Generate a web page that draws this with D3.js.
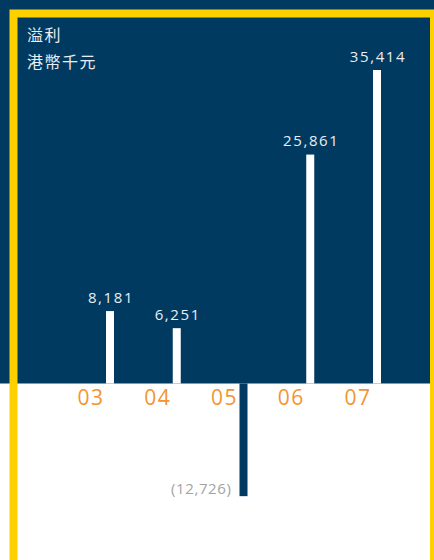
<!DOCTYPE html>
<html>
<head>
<meta charset="utf-8">
<script src="https://cdn.jsdelivr.net/npm/d3@7"></script>
<style>
  body { margin: 0; padding: 0; background: #fff; }
  svg { display: block; }
</style>
</head>
<body>
<div id="chart"></div>
<script>
// data
var years = ["03", "04", "05", "06", "07"];
var profit = [8181, 6251, -12726, 25861, 35414];
var valueLabels = ["8,181", "6,251", "(12,726)", "25,861", "35,414"];
var titleLines = ["溢利", "港幣千元"];

var width = 434, height = 560;
var baseline = 383.5;

var svg = d3.select("#chart")
  .append("svg")
    .attr("width", width)
    .attr("height", height);

// navy panel above the zero line
svg.append("rect")
    .attr("x", 0).attr("y", 0)
    .attr("width", width).attr("height", baseline)
    .attr("fill", "#013a61");

var x = d3.scalePoint()
    .domain(years)
    .range([110, 377]);

var y = d3.scaleLinear()
    .domain([0, d3.max(profit)])
    .range([baseline, 70]);

var rows = years.map(function(d, i){ return {year: d, value: profit[i], label: valueLabels[i]}; });

// bars
svg.selectAll(".bar")
  .data(rows)
  .enter().append("rect")
    .attr("class", "bar")
    .attr("x", function(d){ return x(d.year) - 4; })
    .attr("y", function(d){ return Math.min(y(d.value), y(0)); })
    .attr("width", 8)
    .attr("height", function(d){ return Math.abs(y(d.value) - y(0)); })
    .attr("fill", function(d){ return d.value < 0 ? "#013a61" : "#ffffff"; });

// value labels
svg.selectAll(".val")
  .data(rows)
  .enter().append("text")
    .attr("class", "val")
    .attr("x", function(d){ return d.value < 0 ? x(d.year) - 12 : x(d.year) + 1; })
    .attr("y", function(d){ return d.value < 0 ? y(d.value) - 2 : y(d.value) - 8.5; })
    .attr("text-anchor", function(d){ return d.value < 0 ? "end" : "middle"; })
    .attr("font-family", "'Open Sans', sans-serif")
    .attr("font-size", "15px")
    .attr("letter-spacing", function(d){ return d.value < 0 ? "0.6px" : "1.6px"; })
    .attr("fill", function(d){ return d.value < 0 ? "#a3a3a3" : "#e8eef3"; })
    .text(function(d){ return d.label; });

// year labels
svg.selectAll(".yr")
  .data(years)
  .enter().append("text")
    .attr("class", "yr")
    .attr("x", function(d){ return x(d) - 19; })
    .attr("y", 405)
    .attr("text-anchor", "middle")
    .attr("font-family", "'Open Sans', sans-serif")
    .attr("font-size", "21px")
    .attr("letter-spacing", "1.5px")
    .attr("fill", "#f39433")
    .text(function(d){ return d; });

// title
svg.selectAll(".title")
  .data(titleLines)
  .enter().append("text")
    .attr("class", "title")
    .attr("x", 27)
    .attr("y", function(d, i){ return 41 + i * 27; })
    .attr("font-family", "'Noto Sans CJK TC', sans-serif")
    .attr("font-size", "16px")
    .attr("letter-spacing", "1.5px")
    .attr("fill", "#e8eef3")
    .text(function(d){ return d; });

// yellow frame
svg.append("rect")
    .attr("x", 13.5).attr("y", 13.5)
    .attr("width", 420.5).attr("height", 600)
    .attr("fill", "none")
    .attr("stroke", "#fdd000")
    .attr("stroke-width", 8);
</script>
</body>
</html>
